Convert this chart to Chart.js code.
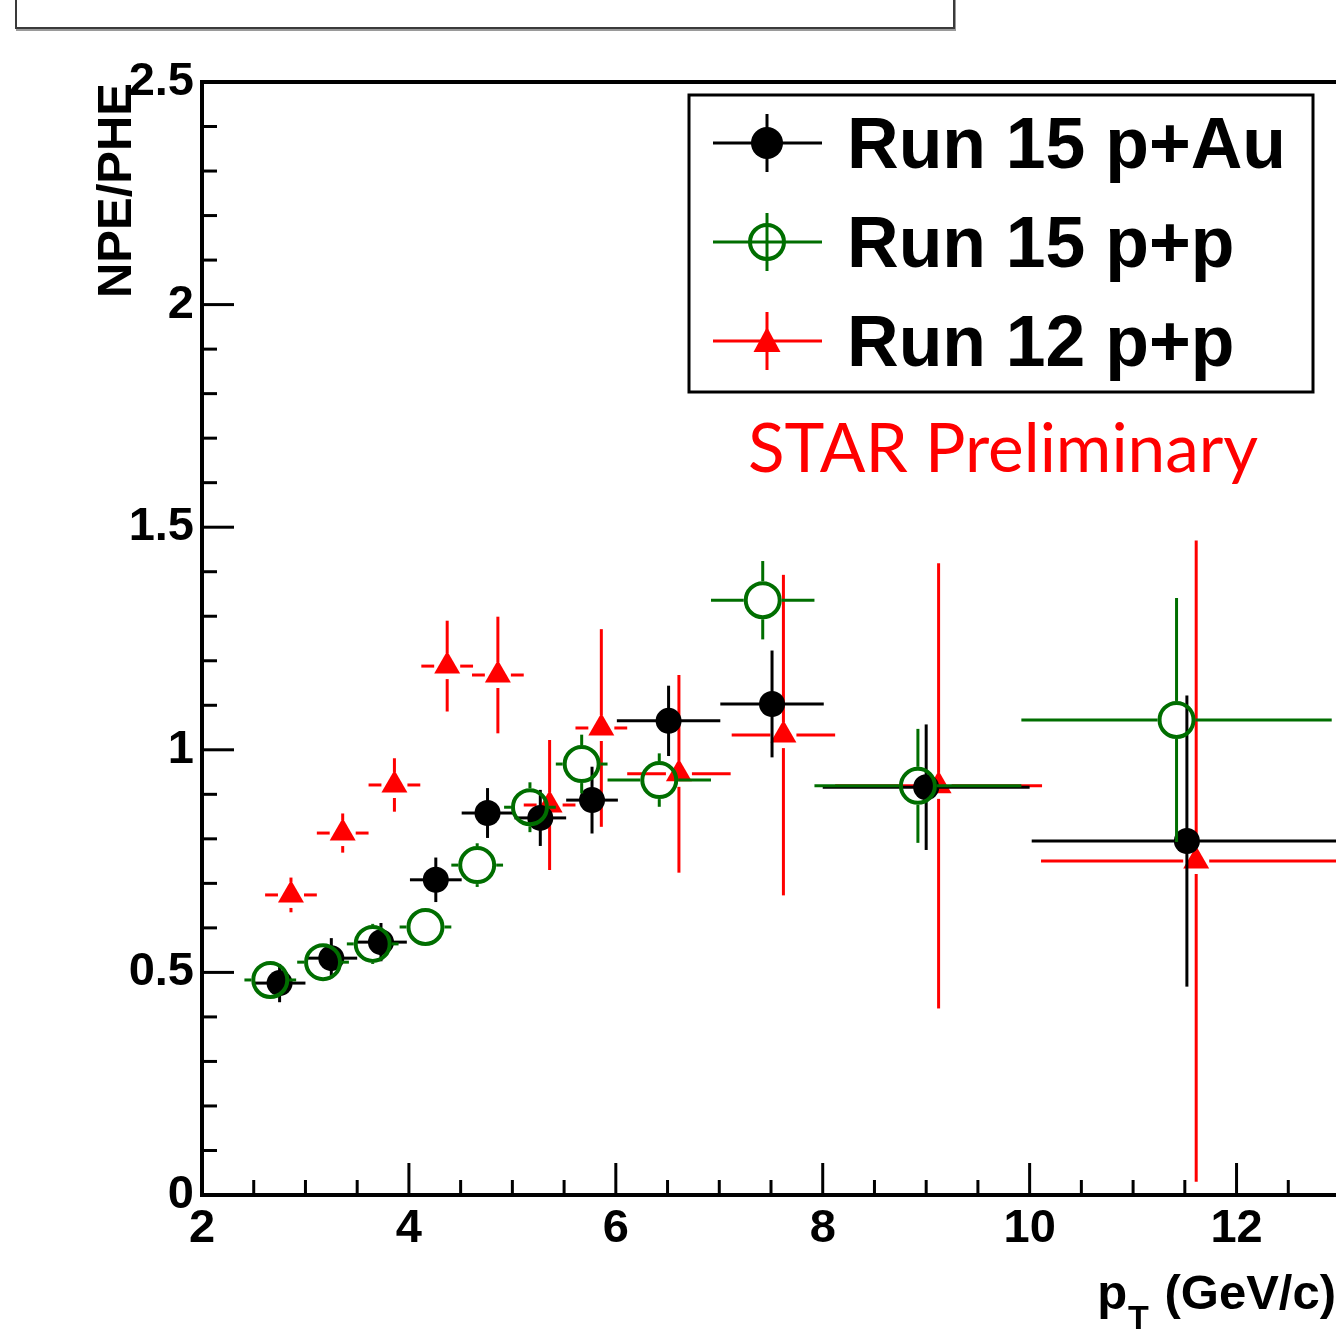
<!DOCTYPE html>
<html>
<head>
<meta charset="utf-8">
<script src="https://cdn.jsdelivr.net/npm/chart.js@4.4.0/dist/chart.umd.min.js"></script>
<style>
  html, body { margin: 0; padding: 0; background: #fff; overflow: hidden; }
  #wrap { position: relative; width: 1336px; height: 1331px; overflow: hidden; }
  #titleBox { position: absolute; left: 15px; top: -10px; width: 936px; height: 35px;
              border: 2px solid #3a3a3a; box-shadow: 1px 2px 0 #9a9a9a; background: #fff; }
  canvas { position: absolute; left: 0; top: 0; }
</style>
</head>
<body>
<div id="wrap">
  <div id="titleBox"></div>
  <canvas id="c" width="1361" height="1331"></canvas>
</div>
<script>
// axis ticks
const xTicks = [2, 4, 6, 8, 10, 12];
const yTicks = [0, 0.5, 1, 1.5, 2, 2.5];

// Run 15 p+Au
const pAuPt = [2.75, 3.25, 3.73, 4.26, 4.76, 5.27, 5.77, 6.51, 7.51, 9.0, 11.52];
const pAuPtErr = [0.25, 0.25, 0.25, 0.25, 0.25, 0.25, 0.25, 0.5, 0.5, 1.0, 1.5];
const pAuRatio = [0.476, 0.532, 0.568, 0.708, 0.858, 0.847, 0.887, 1.065, 1.103, 0.916, 0.795];
const pAuRatioErr = [0.043, 0.045, 0.043, 0.05, 0.056, 0.063, 0.075, 0.079, 0.12, 0.141, 0.327];

// Run 15 p+p
const pp15Pt = [2.66, 3.17, 3.65, 4.16, 4.66, 5.17, 5.67, 6.42, 7.42, 8.92, 11.42];
const pp15PtErr = [0.25, 0.25, 0.25, 0.25, 0.25, 0.25, 0.25, 0.5, 0.5, 1.0, 1.5];
const pp15Ratio = [0.483, 0.523, 0.564, 0.602, 0.741, 0.871, 0.968, 0.932, 1.336, 0.919, 1.067];
const pp15RatioErr = [0.03, 0.035, 0.045, 0.035, 0.049, 0.056, 0.066, 0.06, 0.088, 0.128, 0.274];

// Run 12 p+p
const pp12Pt = [2.86, 3.36, 3.86, 4.37, 4.86, 5.36, 5.86, 6.61, 7.62, 9.12, 11.61];
const pp12PtErr = [0.25, 0.25, 0.25, 0.25, 0.25, 0.25, 0.25, 0.5, 0.5, 1.0, 1.5];
const pp12Ratio = [0.674, 0.813, 0.921, 1.188, 1.168, 0.876, 1.049, 0.946, 1.033, 0.919, 0.750];
const pp12RatioErr = [0.039, 0.044, 0.06, 0.102, 0.131, 0.146, 0.222, 0.222, 0.36, 0.5, 0.72];

const GREEN = '#006e00';
const RED = '#ff0000';
const FONT = 'Liberation Sans, Arial, Helvetica, sans-serif';

function toPoints(xs, ys) {
    return xs.map((x, i) => ({ x: x, y: ys[i] }));
}

// error bars per dataset index, gap = marker half size (ROOT draws bars outside marker)
const errorSets = [
    { x: pp15Pt, ex: pp15PtErr, y: pp15Ratio, ey: pp15RatioErr, color: GREEN, gap: 19 },
    { x: pAuPt, ex: pAuPtErr, y: pAuRatio, ey: pAuRatioErr, color: '#000', gap: 0 },
    { x: pp12Pt, ex: pp12PtErr, y: pp12Ratio, ey: pp12RatioErr, color: RED, gap: 13 }
];

function line(ctx, x1, y1, x2, y2) {
    ctx.beginPath();
    ctx.moveTo(x1, y1);
    ctx.lineTo(x2, y2);
    ctx.stroke();
}

function drawErrors(chart, set) {
    const ctx = chart.ctx;
    const xs = chart.scales.x, ys = chart.scales.y;
    const a = chart.chartArea;
    ctx.save();
    ctx.beginPath();
    ctx.rect(a.left, a.top, a.right - a.left, a.bottom - a.top);
    ctx.clip();
    ctx.strokeStyle = set.color;
    ctx.lineWidth = 3;
    set.x.forEach((x, i) => {
        const px = xs.getPixelForValue(x);
        const py = ys.getPixelForValue(set.y[i]);
        const xl = xs.getPixelForValue(x - set.ex[i]);
        const xr = xs.getPixelForValue(x + set.ex[i]);
        const yt = ys.getPixelForValue(set.y[i] + set.ey[i]);
        const yb = ys.getPixelForValue(set.y[i] - set.ey[i]);
        const g = set.gap;
        if (px - xl > g) {
            line(ctx, xl, py, px - g, py);
            line(ctx, px + g, py, xr, py);
        }
        if (py - yt > g) {
            line(ctx, px, yt, px, py - g);
            line(ctx, px, py + g, px, yb);
        }
    });
    ctx.restore();
}

function drawMarker(ctx, kind, x, y) {
    if (kind === 'dot') {
        ctx.fillStyle = '#000';
        ctx.beginPath(); ctx.arc(x, y, 16, 0, Math.PI * 2); ctx.fill();
    } else if (kind === 'ring') {
        ctx.strokeStyle = GREEN; ctx.lineWidth = 4;
        ctx.beginPath(); ctx.arc(x, y, 17, 0, Math.PI * 2); ctx.stroke();
    } else {
        ctx.fillStyle = RED;
        ctx.beginPath();
        ctx.moveTo(x, y - 14); ctx.lineTo(x + 13.5, y + 11); ctx.lineTo(x - 13.5, y + 11);
        ctx.closePath(); ctx.fill();
    }
}

const rootStyle = {
    id: 'rootStyle',
    beforeDatasetDraw(chart, args) {
        drawErrors(chart, errorSets[args.index]);
    },
    afterDatasetsDraw(chart) {
        const ctx = chart.ctx;
        const a = chart.chartArea;
        const xs = chart.scales.x, ys = chart.scales.y;
        ctx.save();
        ctx.strokeStyle = '#000';
        // top frame line
        ctx.lineWidth = 4;
        line(ctx, a.left - 2, a.top, a.right, a.top);
        // inward ticks
        ctx.lineWidth = 3;
        for (let v = 2; v <= 13.001; v += 0.5) {
            const px = xs.getPixelForValue(v);
            const major = Math.abs(v / 2 - Math.round(v / 2)) < 1e-6;
            line(ctx, px, a.bottom, px, a.bottom - (major ? 32 : 15));
        }
        for (let v = 0; v <= 2.5001; v += 0.1) {
            const py = ys.getPixelForValue(v);
            const major = Math.abs(v * 2 - Math.round(v * 2)) < 1e-6;
            line(ctx, a.left, py, a.left + (major ? 32 : 15), py);
        }
        ctx.restore();
    },
    afterDraw(chart) {
        const ctx = chart.ctx;
        ctx.save();
        // legend box
        const L = 689, T = 95, R = 1313, B = 392;
        ctx.fillStyle = '#fff';
        ctx.fillRect(L, T, R - L, B - T);
        ctx.strokeStyle = '#000';
        ctx.lineWidth = 3;
        ctx.strokeRect(L, T, R - L, B - T);
        const rows = [
            { y: 143, color: '#000', kind: 'dot', text: 'Run 15 p+Au' },
            { y: 242, color: GREEN, kind: 'ring', text: 'Run 15 p+p' },
            { y: 341, color: RED, kind: 'tri', text: 'Run 12 p+p' }
        ];
        rows.forEach((r) => {
            ctx.strokeStyle = r.color;
            ctx.lineWidth = 3;
            line(ctx, 713, r.y, 822, r.y);
            line(ctx, 767, r.y - 29, 767, r.y + 29);
            drawMarker(ctx, r.kind, 767, r.y);
            ctx.fillStyle = '#000';
            ctx.font = 'bold 71.5px ' + FONT;
            ctx.textAlign = 'left';
            ctx.textBaseline = 'alphabetic';
            ctx.fillText(r.text, 847, r.y + 25);
        });

        // STAR Preliminary
        ctx.font = '100px Lato';
        const w = ctx.measureText('STAR Preliminary').width;
        ctx.font = (100 * 510 / w).toFixed(1) + 'px Lato';
        ctx.fillStyle = RED;
        ctx.fillText('STAR Preliminary', 748, 472);

        // y title
        ctx.fillStyle = '#000';
        ctx.save();
        ctx.translate(131, 83);
        ctx.rotate(-Math.PI / 2);
        ctx.font = 'bold 49px ' + FONT;
        ctx.textAlign = 'right';
        ctx.fillText('NPE/PHE', 0, 0);
        ctx.restore();

        // x title: p_T (GeV/c)
        const base = 1309, right = 1336;
        ctx.textAlign = 'right';
        ctx.font = 'bold 49px ' + FONT;
        const tail = ' (GeV/c)';
        ctx.fillText(tail, right, base);
        const wTail = ctx.measureText(tail).width;
        ctx.font = 'bold 34px ' + FONT;
        const wT = ctx.measureText('T').width;
        ctx.fillText('T', right - wTail - 2, base + 20);
        ctx.font = 'bold 49px ' + FONT;
        ctx.fillText('p', right - wTail - wT - 3, base);
        ctx.restore();
    }
};

const tickFont = { family: FONT, size: 47, weight: 'bold' };

new Chart(document.getElementById('c'), {
    type: 'scatter',
    data: {
        datasets: [
            {
                label: 'Run 15 p+p',
                data: toPoints(pp15Pt, pp15Ratio),
                pointStyle: 'circle',
                pointRadius: 17,
                pointBorderWidth: 4,
                pointBorderColor: GREEN,
                pointBackgroundColor: 'rgba(0,0,0,0)',
                order: 1
            },
            {
                label: 'Run 15 p+Au',
                data: toPoints(pAuPt, pAuRatio),
                pointStyle: 'circle',
                pointRadius: 13,
                pointBorderWidth: 0,
                pointBackgroundColor: '#000',
                order: 2
            },
            {
                label: 'Run 12 p+p',
                data: toPoints(pp12Pt, pp12Ratio),
                pointStyle: 'triangle',
                pointRadius: 15,
                pointBorderWidth: 0,
                pointBackgroundColor: RED,
                order: 3
            }
        ]
    },
    options: {
        responsive: false,
        animation: false,
        events: [],
        layout: { padding: { top: 82, right: 5, bottom: 0, left: 0 } },
        plugins: {
            legend: { display: false },
            tooltip: { enabled: false }
        },
        scales: {
            x: {
                type: 'linear',
                min: 2,
                max: 13,
                afterBuildTicks: (s) => { s.ticks = xTicks.map((v) => ({ value: v })); },
                afterFit: (s) => { s.height = 136; },
                grid: { display: false, drawTicks: false },
                border: { display: true, color: '#000', width: 4 },
                ticks: { font: tickFont, color: '#000', padding: 6, autoSkip: false, maxRotation: 0,
                         callback: (v) => `${v}` }
            },
            y: {
                type: 'linear',
                min: 0,
                max: 2.5,
                afterBuildTicks: (s) => { s.ticks = yTicks.map((v) => ({ value: v })); },
                afterFit: (s) => { s.width = 202; },
                grid: { display: false, drawTicks: false },
                border: { display: true, color: '#000', width: 4 },
                ticks: { font: tickFont, color: '#000', padding: 8, autoSkip: false,
                         callback: (v) => `${v}` }
            }
        }
    },
    plugins: [rootStyle]
});
</script>
</body>
</html>
